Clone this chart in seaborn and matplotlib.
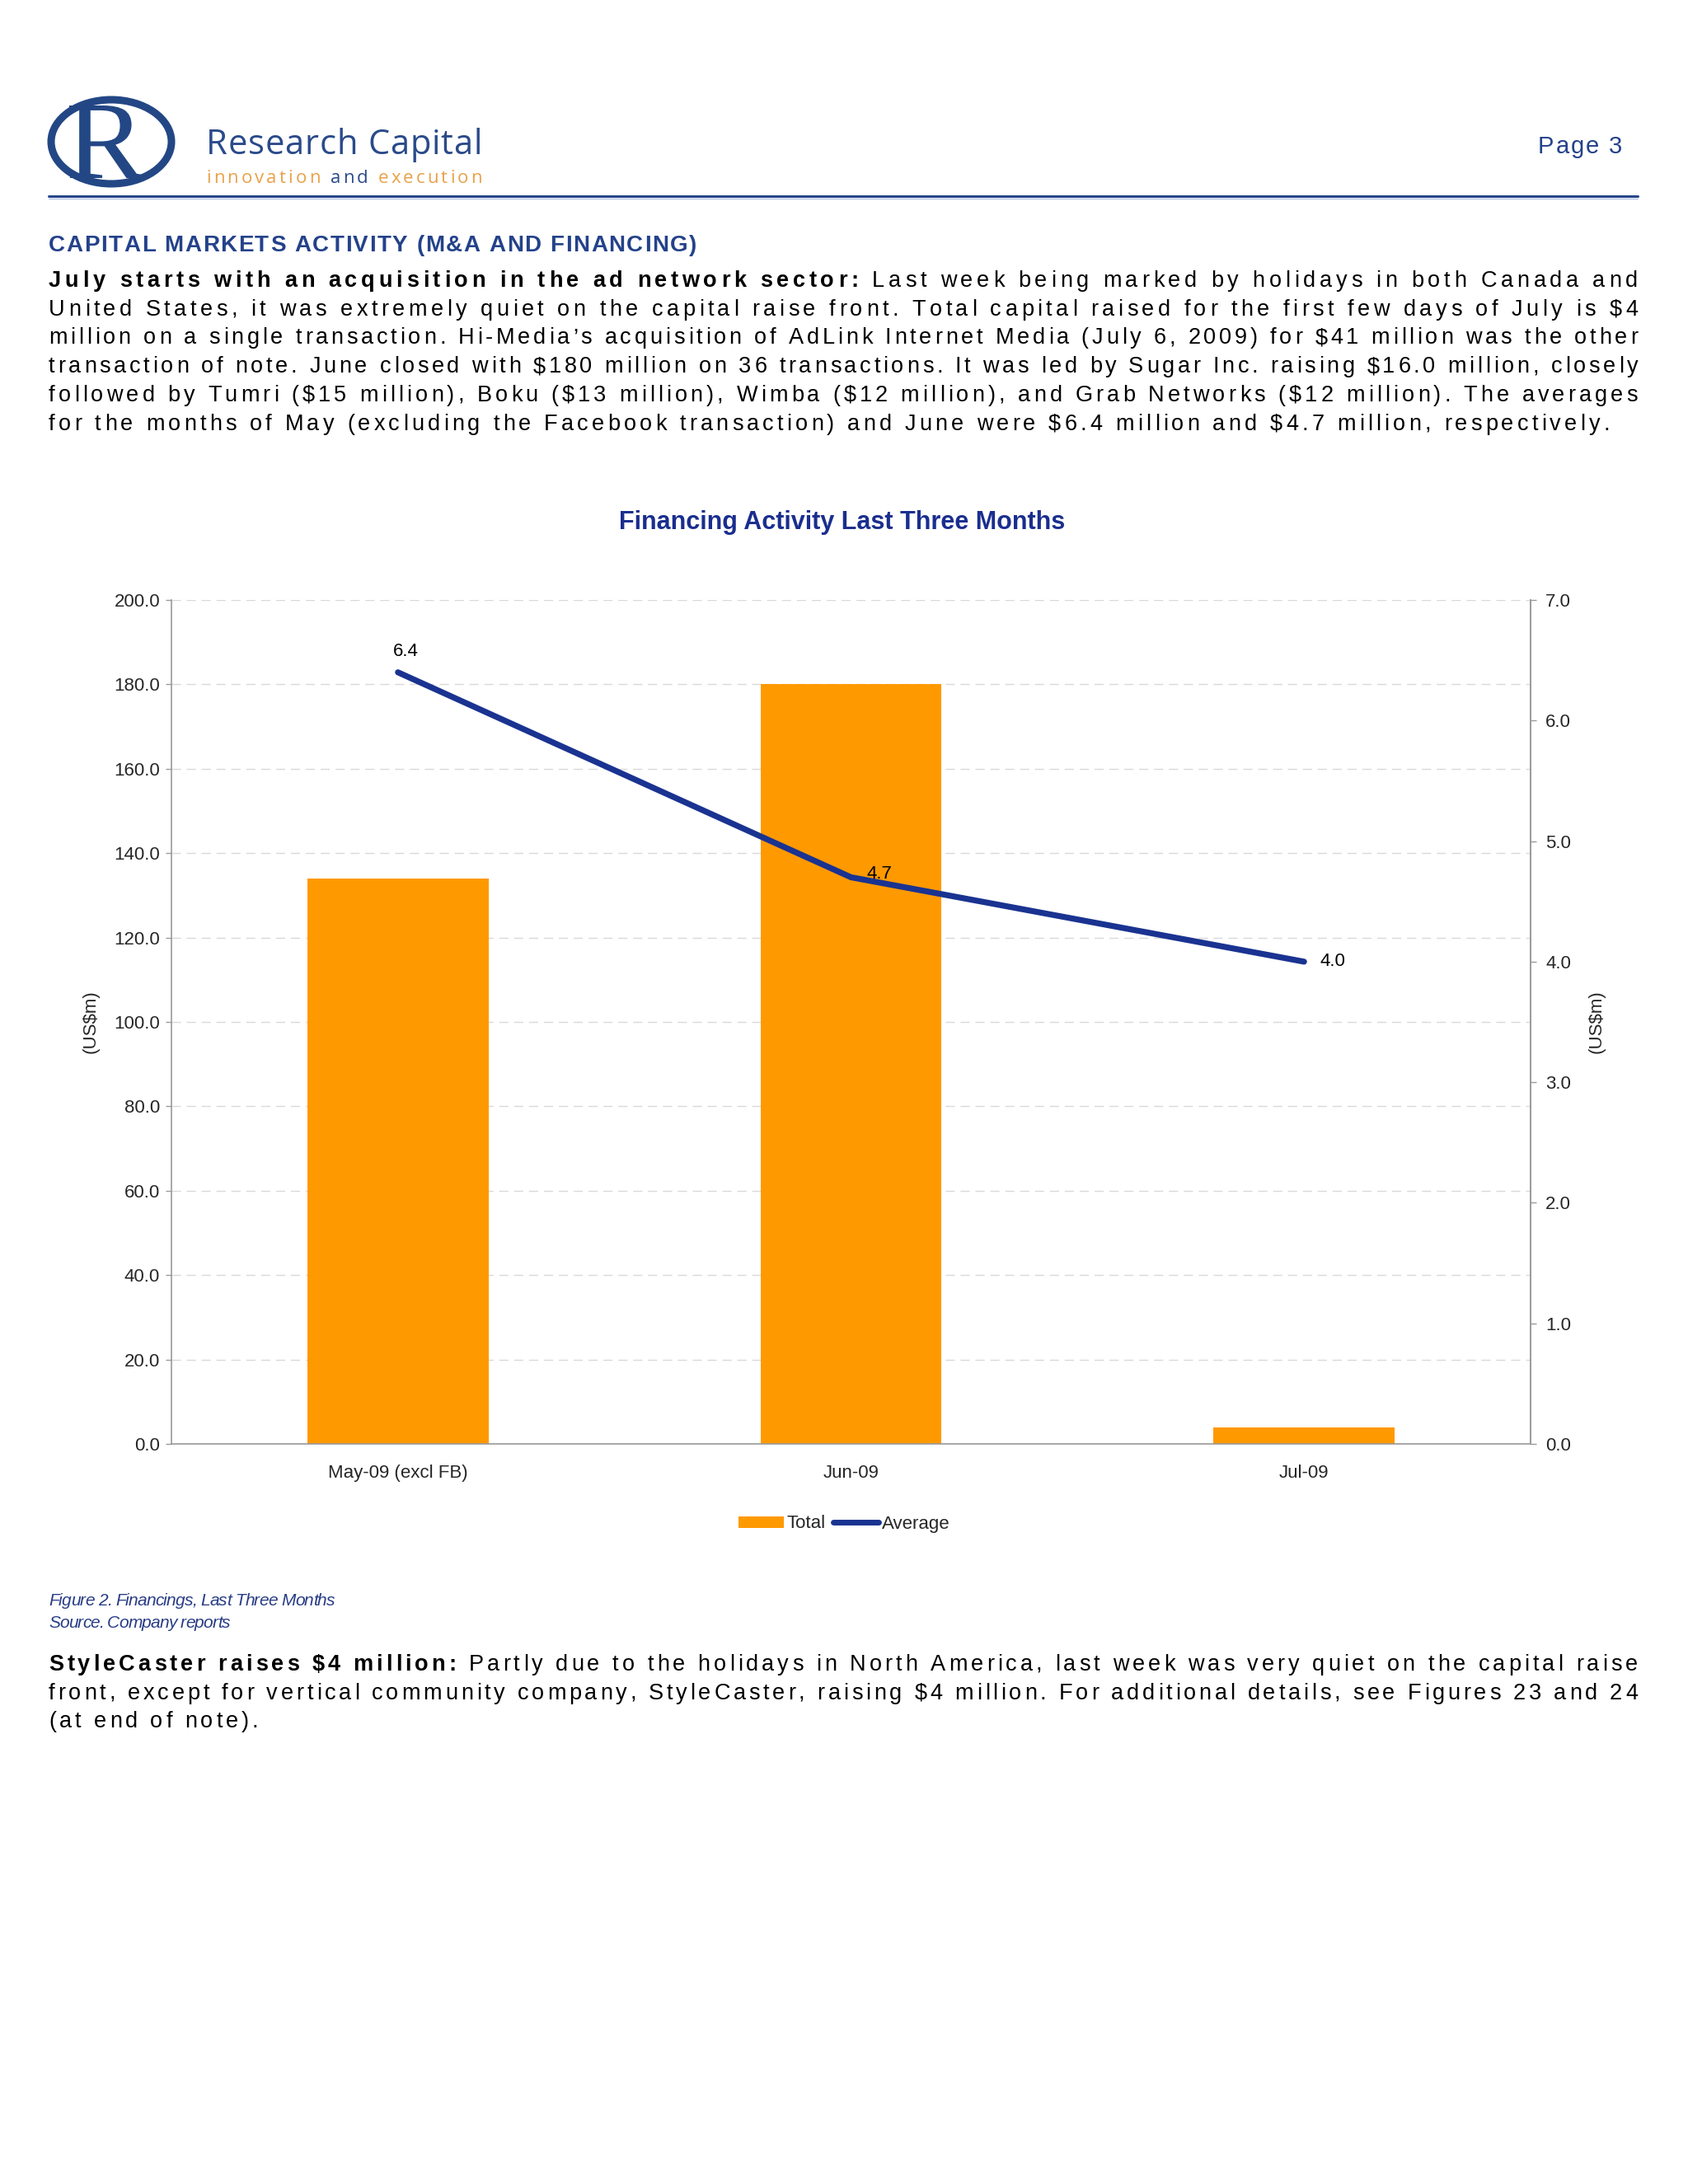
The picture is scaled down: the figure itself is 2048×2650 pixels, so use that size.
import numpy as np
import pandas as pd
import matplotlib
matplotlib.use("Agg")
import matplotlib.pyplot as plt
import seaborn as sns
from matplotlib.patches import Ellipse, PathPatch, Patch
from matplotlib.lines import Line2D
from matplotlib.textpath import TextPath
from matplotlib.font_manager import FontProperties, findfont, get_font
from matplotlib.transforms import Affine2D
from matplotlib.ticker import FormatStrFormatter

# datos del grafico
months = ["May-09 (excl FB)", "Jun-09", "Jul-09"]
total = [134.0, 180.0, 4.0]
average = [6.4, 4.7, 4.0]
left_ticks = np.arange(0, 201, 20)
right_ticks = np.arange(0, 8, 1)

ORANGE = "#FF9900"
LINE = "#1A3391"
NAVY = "#24428A"
GREY = "#9A9A9A"

sns.set_theme(style="white")
plt.rcParams["font.family"] = ["Liberation Sans", "DejaVu Sans"]

fig = plt.figure(figsize=(20.48, 26.5), dpi=100)
fig.patch.set_facecolor("white")

# eje "pagina" en pixeles
page = fig.add_axes([0, 0, 1, 1])
page.set_xlim(0, 2048)
page.set_ylim(2650, 0)
page.axis("off")


def char_w(c, prop):
    font = get_font(findfont(prop))
    font.set_size(prop.get_size_in_points(), 100)
    g = font.load_char(ord(c))
    return g.linearHoriAdvance / 65536


def put(x, y, parts, size, width=None, track=0.0):
    items = []
    for s, kw in parts:
        prop = FontProperties(family=kw.get("family", "Liberation Sans"),
                              weight=kw.get("weight", "normal"),
                              style=kw.get("style", "normal"), size=size)
        for c in s:
            items.append((c, prop, kw.get("color", "black"), char_w(c, prop)))
    natural = sum(it[3] for it in items)
    if width is not None:
        track = (width - natural) / (len(items) - 1)
    cx = x
    for c, prop, col, w in items:
        if c != " ":
            page.text(cx, y, c, fontproperties=prop, color=col, ha="left", va="baseline")
        cx += w + track
    return track


# encabezado
page.add_patch(Ellipse((135, 172), 146, 102, fill=False, lw=6.5, ec="#234785"))
tp = TextPath((0, 0), "R", size=100, prop=FontProperties(family="Liberation Serif"))
ext = tp.get_extents()
tr = Affine2D().translate(-ext.x0, -ext.y0).scale(92 / ext.width, -88 / ext.height).translate(84, 216)
page.add_patch(PathPatch(tr.transform_path(tp), fc="#234785", lw=0))

put(250, 187, [("Research Capital", {"color": "#2A4A8A", "family": "Open Sans"})], 30, width=335)
put(250, 222, [("innovation ", {"color": "#E9A24A", "family": "Open Sans"}),
               ("and", {"color": "#2A4A8A", "family": "Open Sans"}),
               (" execution", {"color": "#E9A24A", "family": "Open Sans"})], 16, width=335)
put(1866, 186, [("Page 3", {"color": NAVY})], 21, width=102)
page.plot([59, 1987], [238, 238], color="#27468A", lw=2.2)
page.plot([59, 1987], [240.5, 240.5], color="#A9BCDD", lw=0.8)

put(59, 305, [("CAPITAL MARKETS ACTIVITY (M&A AND FINANCING)", {"color": NAVY, "weight": "bold"})], 20, width=786)

B = {"weight": "bold"}
N = {}
para1 = [
    [("July starts with an acquisition in the ad network sector:", B), (" Last week being marked by holidays in both Canada and", N)],
    [("United States, it was extremely quiet on the capital raise front. Total capital raised for the first few days of July is $4", N)],
    [("million on a single transaction. Hi-Media\u2019s acquisition of AdLink Internet Media (July 6, 2009) for $41 million was the other", N)],
    [("transaction of note. June closed with $180 million on 36 transactions. It was led by Sugar Inc. raising $16.0 million, closely", N)],
    [("followed by Tumri ($15 million), Boku ($13 million), Wimba ($12 million), and Grab Networks ($12 million). The averages", N)],
    [("for the months of May (excluding the Facebook transaction) and June were $6.4 million and $4.7 million, respectively.", N)],
]
para2 = [
    [("StyleCaster raises $4 million:", B), (" Partly due to the holidays in North America, last week was very quiet on the capital raise", N)],
    [("front, except for vertical community company, StyleCaster, raising $4 million. For additional details, see Figures 23 and 24", N)],
    [("(at end of note).", N)],
]


def paragraph(lines, y0, size=19.5, step=34.7):
    tracks = []
    for i, parts in enumerate(lines[:-1]):
        tracks.append(put(59, y0 + i * step, parts, size, width=1928))
    put(59, y0 + (len(lines) - 1) * step, lines[-1], size, track=np.mean(tracks))


paragraph(para1, 348)
paragraph(para2, 2027)

# pie de figura
CAP = {"color": "#283C86", "style": "italic"}
put(59, 1948, [("Figure 2. Financings, Last Three Months", CAP)], 15, width=347)
put(59, 1975, [("Source. Company reports", CAP)], 15, width=220)

# titulo del grafico
fig.text(1022 / 2048, 1 - 634 / 2650, "Financing Activity Last Three Months",
         ha="center", va="center", fontsize=22, fontweight="bold", color="#1A2E8E")

# grafico
df = pd.DataFrame({"Month": months, "Total": total, "Average": average})
ax = fig.add_axes([208 / 2048, 898 / 2650, 1649 / 2048, 1024 / 2650])
ax.patch.set_alpha(0)
sns.barplot(data=df, x="Month", y="Total", color=ORANGE, saturation=1, width=0.4,
            linewidth=0, ax=ax)
ax.set_ylim(0, 200)
ax.set_yticks(left_ticks)
ax.yaxis.set_major_formatter(FormatStrFormatter("%.1f"))
ax.set_axisbelow(True)
ax.yaxis.grid(True, color="#D9D9D9", ls=(0, (8, 5)), lw=1)
ax.xaxis.grid(False)
ax.set_xticks([-0.5, 0.5, 1.5, 2.5], labels=["", "", "", ""])
ax.set_xticks([0, 1, 2], labels=months, minor=True)
ax.tick_params(axis="x", which="major", length=5, width=1, color=GREY, direction="out")
ax.tick_params(axis="x", which="minor", length=0, pad=18, labelsize=16)
ax.tick_params(axis="y", length=5, width=1, color=GREY, direction="out", pad=5, labelsize=16, left=True)
ax.set_xlabel("")
ax.set_ylabel("(US$m)", fontsize=16)
ax.yaxis.set_label_coords(-0.053, 0.5)
ax.spines["top"].set_visible(False)
for s in ["left", "bottom", "right"]:
    ax.spines[s].set_color(GREY)
    ax.spines[s].set_linewidth(1.2)

ax2 = ax.twinx()
sns.lineplot(x=np.arange(len(average)), y=average, ax=ax2, color=LINE, lw=5.2,
             solid_capstyle="round", legend=False)
ax2.set_ylim(0, 7)
ax2.set_yticks(right_ticks)
ax2.yaxis.set_major_formatter(FormatStrFormatter("%.1f"))
ax2.tick_params(axis="y", length=5, width=1, color=GREY, direction="out", pad=8, labelsize=16, right=True)
ax2.set_ylabel("(US$m)", fontsize=16, rotation=90)
ax2.yaxis.set_label_coords(1.042, 0.5)
ax2.grid(False)
for s in ["top", "left", "bottom"]:
    ax2.spines[s].set_visible(False)
ax2.spines["right"].set_color(GREY)
ax2.spines["right"].set_linewidth(1.2)
ax.set_xlim(-0.5, 2.5)

label_offsets = [(7, 18), (25, 3), (25, 0)]
for i, v in enumerate(average):
    ax2.annotate(f"{v:.1f}", (i, v), xytext=label_offsets[i], textcoords="offset points",
                 ha="center", va="center", fontsize=16, color="black")

handles = [Patch(facecolor=ORANGE, edgecolor="none"), Line2D([0], [0], color=LINE, lw=5, solid_capstyle="round")]
fig.legend(handles, ["Total", "Average"], loc="center", bbox_to_anchor=(1024 / 2048, 1 - 1849 / 2650),
           ncol=2, frameon=False, fontsize=16, handlelength=2.5, handleheight=0.6,
           handletextpad=0.15, columnspacing=0.4)

fig.savefig("out.png", dpi=100, facecolor="white")
